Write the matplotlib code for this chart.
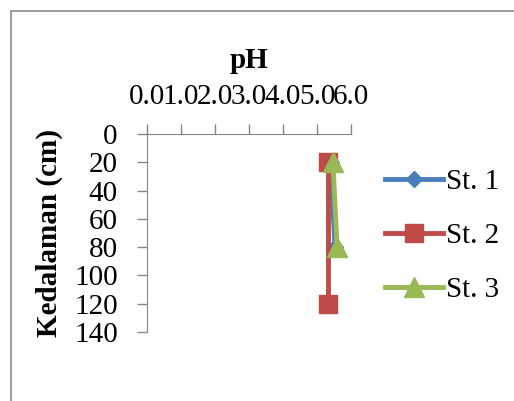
import matplotlib
matplotlib.use('Agg')
import matplotlib.pyplot as plt
from matplotlib.patches import Rectangle

plt.rcParams['font.family'] = ['Liberation Serif', 'DejaVu Serif']

# data: depth (cm) vs pH per station
st1_depth = [20, 80]
st1_ph = [5.40, 5.53]
st2_depth = [20, 120]
st2_ph = [5.32, 5.32]
st3_depth = [20, 80]
st3_ph = [5.47, 5.59]

x_ticks = [0.0, 1.0, 2.0, 3.0, 4.0, 5.0, 6.0]
y_ticks = [0, 20, 40, 60, 80, 100, 120, 140]

fig = plt.figure(figsize=(5.14, 4.01), dpi=100)

# outer chart border (cut off on right/bottom)
fig.patches.append(Rectangle((11/514, -0.05), 1.2, 1 - 11/401 + 0.05,
                             transform=fig.transFigure, fill=False,
                             edgecolor='#8c8c8c', linewidth=1.2))

ax = fig.add_axes([147/514, 1 - 332/401, 204/514, 198/401])

ax.plot(st1_ph, st1_depth, color='#4A7EBB', lw=3.5, marker='D', ms=8, label='St. 1')
ax.plot(st2_ph, st2_depth, color='#BE4B48', lw=3.5, marker='s', ms=13, label='St. 2')
ax.plot(st3_ph, st3_depth, color='#98B954', lw=3.5, marker='^', ms=14, label='St. 3')

ax.set_xlim(0, 6)
ax.set_ylim(140, 0)
ax.set_xticks(x_ticks)
ax.set_xticklabels(['%.1f' % v for v in x_ticks])
ax.set_yticks(y_ticks)

ax.xaxis.tick_top()
ax.xaxis.set_label_position('top')
for s in ['right', 'bottom']:
    ax.spines[s].set_visible(False)
for s in ['top', 'left']:
    ax.spines[s].set_color('#868686')
ax.tick_params(axis='both', colors='#868686', labelcolor='black',
               labelsize=21, length=7, width=1, direction='out')
ax.tick_params(axis='x', pad=10)
ax.tick_params(axis='y', pad=14)

ax.set_xlabel('pH', fontsize=21, fontweight='bold', labelpad=12)
ax.set_ylabel('Kedalaman (cm)', fontsize=21, fontweight='bold', labelpad=8)

ax.legend(loc='center left', bbox_to_anchor=(1.108, 0.485), frameon=False,
          fontsize=21, handlelength=2.0, handletextpad=0.1, labelspacing=0.95,
          borderaxespad=0)

fig.savefig('out.png', dpi=100)
